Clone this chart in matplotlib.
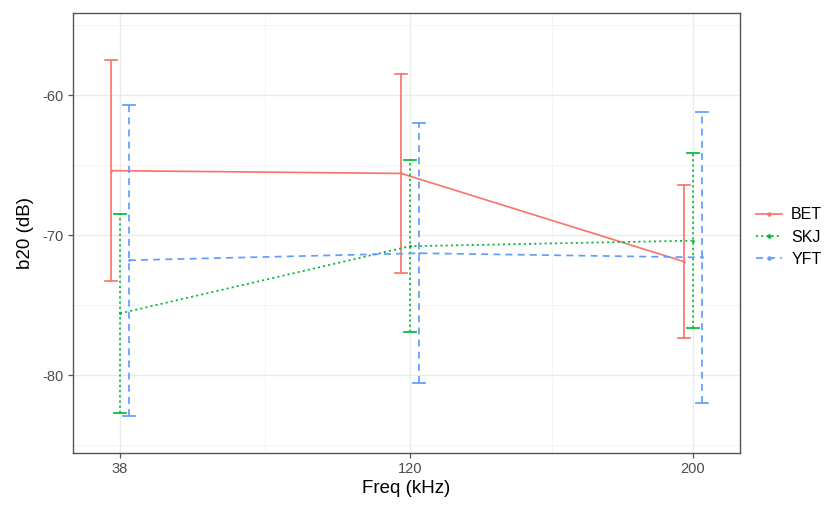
#!/usr/bin/env python3
"""
b20 by frequency for three tuna species, mean +/- error, dodged.
"""

import matplotlib
matplotlib.use('Agg')
import matplotlib.pyplot as plt
from matplotlib.lines import Line2D
import numpy as np

plt.rcParams['font.family'] = ['Liberation Sans', 'DejaVu Sans']
plt.rcParams['axes.unicode_minus'] = False

freqs = [38, 120, 200]
species = ['BET', 'SKJ', 'YFT']

bet_mean = [-65.4, -65.6, -71.9]
bet_err = [7.9, 7.1, 5.45]
skj_mean = [-75.6, -70.8, -70.4]
skj_err = [7.1, 6.15, 6.25]
yft_mean = [-71.8, -71.3, -71.6]
yft_err = [11.1, 9.3, 10.4]

means = {'BET': bet_mean, 'SKJ': skj_mean, 'YFT': yft_mean}
errs = {'BET': bet_err, 'SKJ': skj_err, 'YFT': yft_err}

colors = {'BET': '#F8766D', 'SKJ': '#00BA38', 'YFT': '#619CFF'}
dashes = {'BET': None, 'SKJ': (1.2, 1.8), 'YFT': (4, 3)}
offsets = {'BET': -2.5, 'SKJ': 0.0, 'YFT': 2.5}

fig = plt.figure(figsize=(8.39, 5.09), dpi=100)
ax = fig.add_axes([73 / 839, 1 - 453 / 509, (740 - 73) / 839, (453 - 13) / 509])

lw = 1.25
cap = 1.7  # half width of error bar caps in x units

for sp in species:
    x = np.array(freqs) + offsets[sp]
    m = np.array(means[sp])
    e = np.array(errs[sp])
    kw = dict(color=colors[sp], lw=lw)
    ls_kw = {} if dashes[sp] is None else dict(dashes=dashes[sp])
    ax.plot(x, m, **kw, **ls_kw, zorder=3)
    ax.scatter(x, m, s=4, color=colors[sp], zorder=4, linewidths=0)
    for xi, mi, ei in zip(x, m, e):
        ax.plot([xi, xi], [mi - ei, mi + ei], **kw, **ls_kw, zorder=3)
        ax.plot([xi - cap, xi + cap], [mi + ei, mi + ei], **kw, zorder=3)
        ax.plot([xi - cap, xi + cap], [mi - ei, mi - ei], **kw, zorder=3)

ax.set_xlim(24.7, 213.3)
ax.set_ylim(-85.57, -54.14)
ax.set_xticks(freqs)
ax.set_xticks([79, 160], minor=True)
ax.set_yticks([-80, -70, -60])
ax.set_yticks([-85, -75, -65, -55], minor=True)

ax.grid(True, which='major', color='#EBEBEB', lw=1.0)
ax.grid(True, which='minor', color='#F3F3F3', lw=0.6)
ax.set_axisbelow(True)
ax.tick_params(which='minor', length=0)
ax.tick_params(which='major', length=3.5, width=0.9, color='#555555',
               labelsize=10.5, labelcolor='#4D4D4D', pad=3)
for s in ax.spines.values():
    s.set_color('#555555')
    s.set_linewidth(1.0)

ax.set_xlabel('Freq (kHz)', fontsize=13.5, labelpad=3)
ax.set_ylabel('b20 (dB)', fontsize=13.5, labelpad=6)

handles = []
for sp in species:
    ls_kw = {} if dashes[sp] is None else dict(dashes=dashes[sp])
    handles.append(Line2D([0], [0], color=colors[sp], lw=lw, marker='o',
                          markersize=2.2, **ls_kw))
fig.legend(handles, species, loc='center left', bbox_to_anchor=(748 / 839, 1 - 237 / 509),
           frameon=False, fontsize=11.5, handlelength=1.6, handletextpad=0.6,
           labelspacing=0.45, borderpad=0)

plt.savefig('out.png', dpi=100)
